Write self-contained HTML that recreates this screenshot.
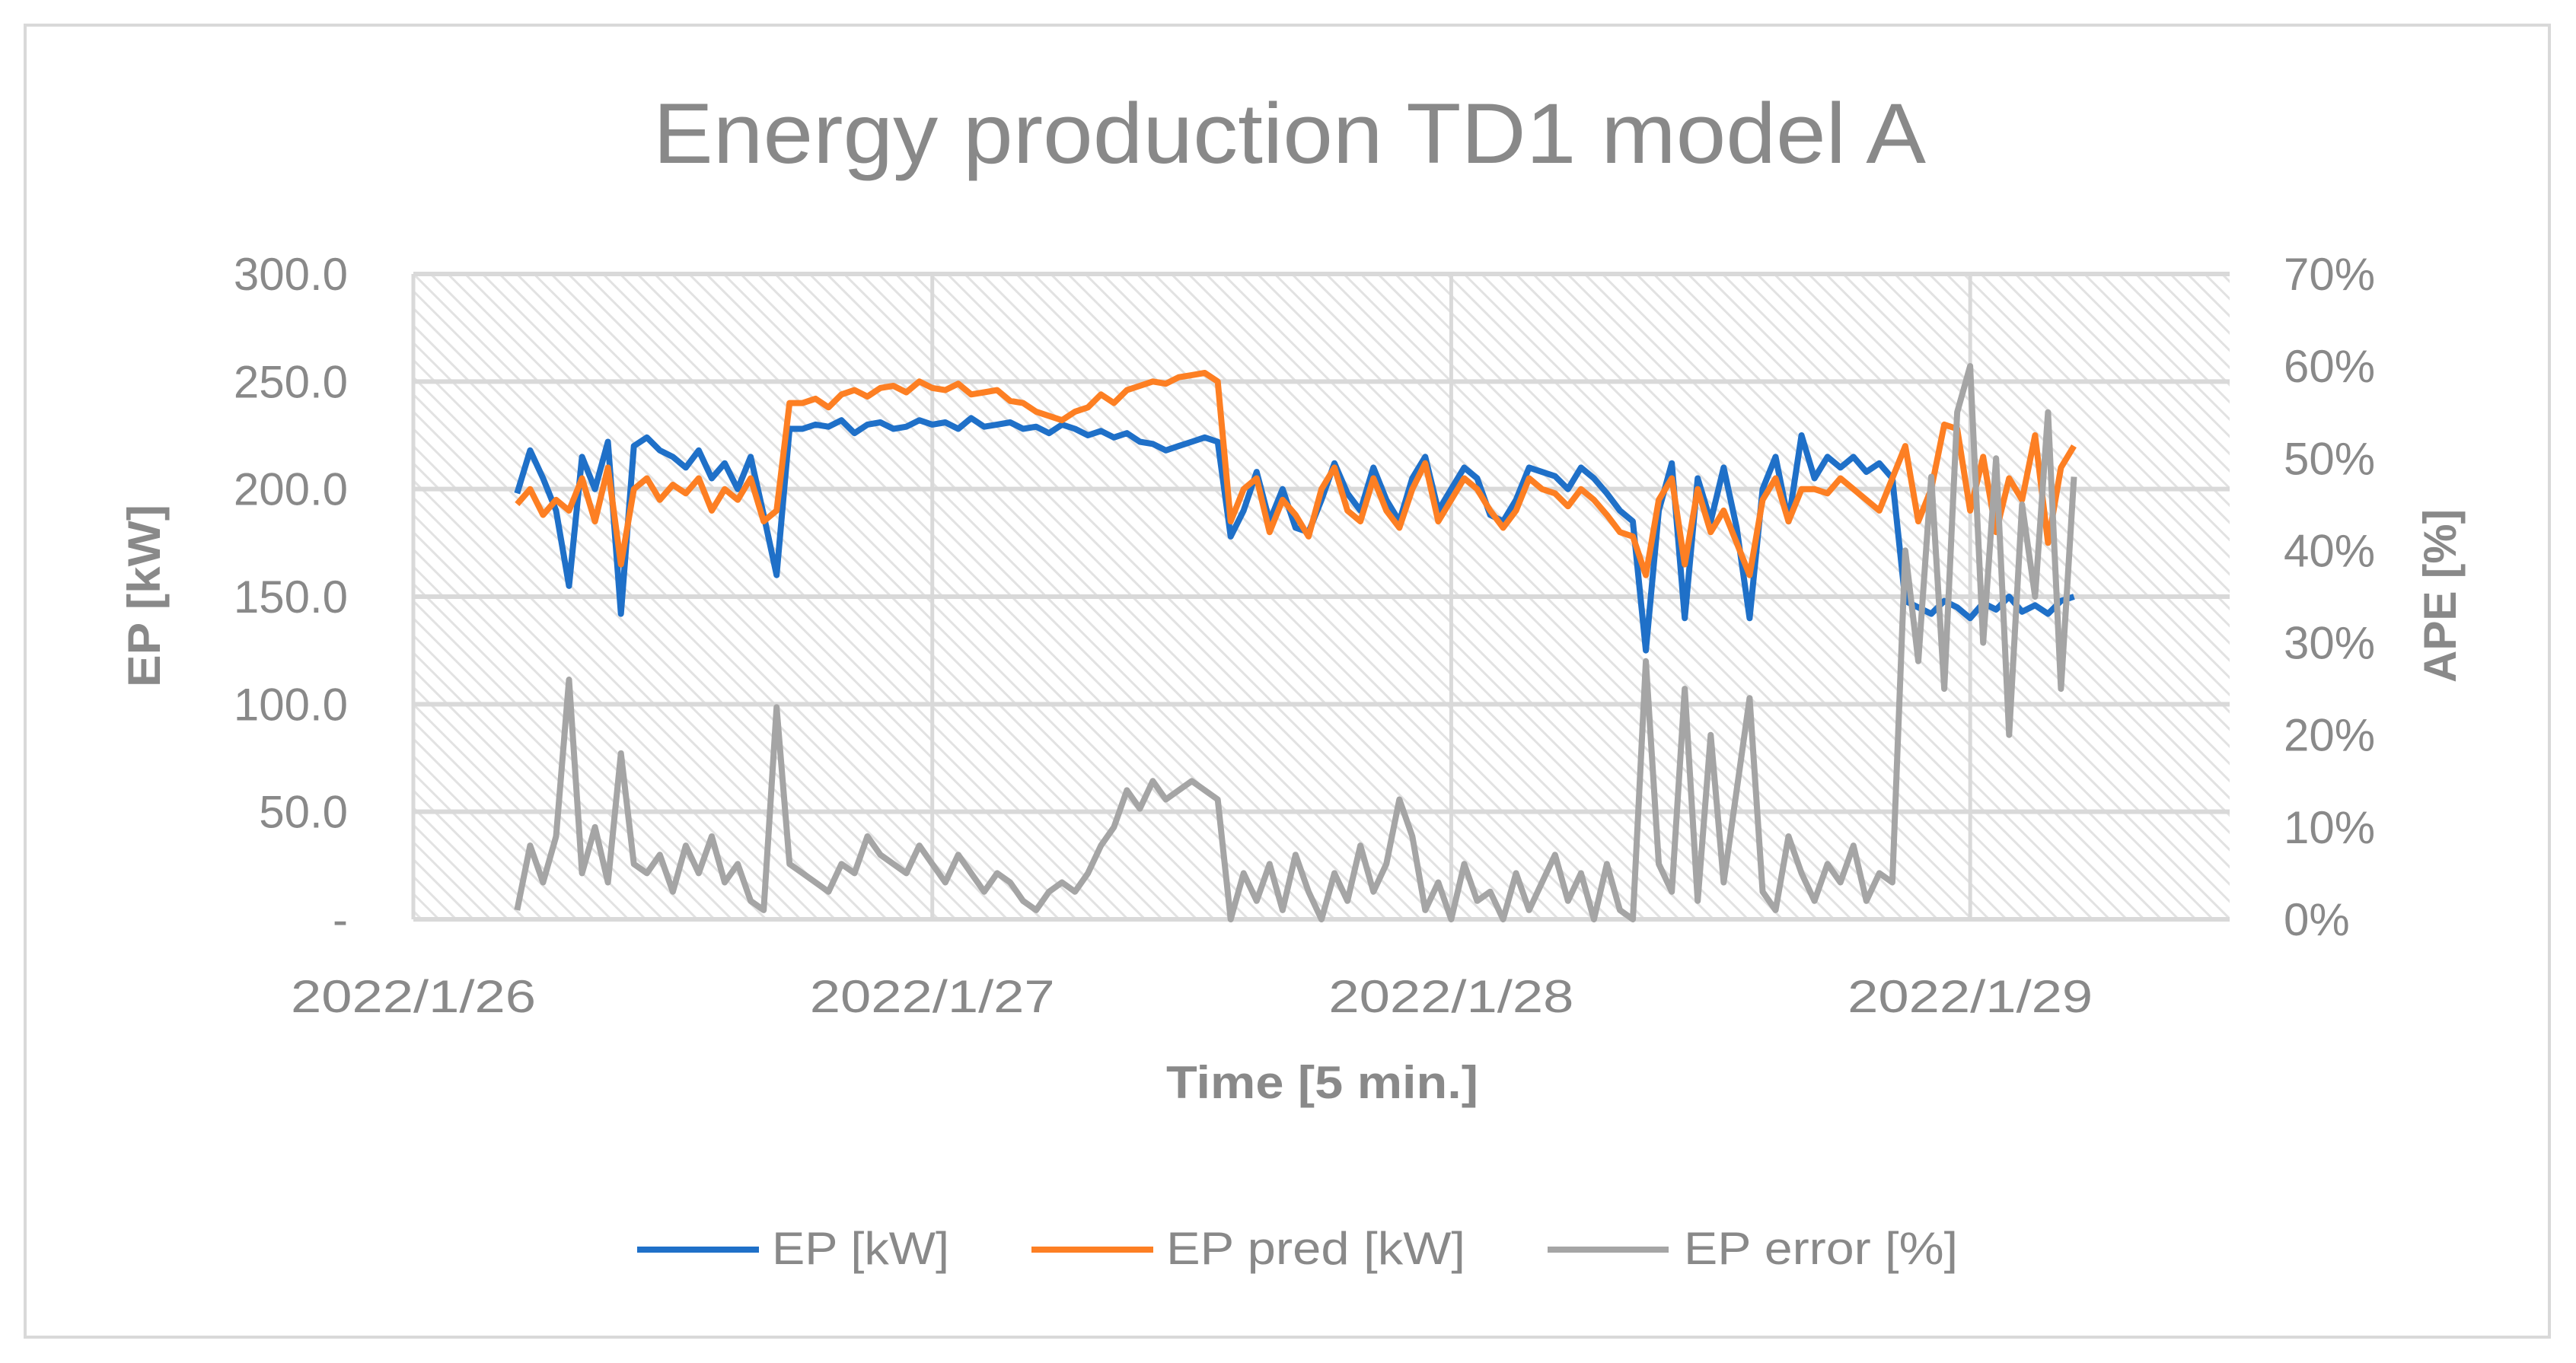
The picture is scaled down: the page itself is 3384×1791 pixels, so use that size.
<!DOCTYPE html>
<html><head><meta charset="utf-8"><style>
html,body{margin:0;padding:0;background:#fff}
svg{display:block}
text{font-family:"Liberation Sans",sans-serif;fill:#898989}
</style></head><body>
<svg id="chart" width="3384" height="1791" viewBox="0 0 3384 1791" xmlns="http://www.w3.org/2000/svg">
<defs>
<pattern id="hatch" patternUnits="userSpaceOnUse" width="16" height="16" patternTransform="rotate(-45)">
<rect width="16" height="16" fill="#ffffff"/>
<line x1="0" y1="0" x2="0" y2="16" stroke="#e2e2e2" stroke-width="6"/>
</pattern>
</defs>
<rect x="33" y="33" width="3316" height="1724" fill="#fff" stroke="#d9d9d9" stroke-width="4"/>
<text x="1694" y="214" font-size="112" text-anchor="middle" textLength="1672" lengthAdjust="spacingAndGlyphs">Energy production TD1 model A</text>
<rect x="543" y="360" width="2386" height="848" fill="url(#hatch)"/>
<g id="grid"></g>
<g id="yticks"></g>
<g id="y2ticks"></g>
<g id="xticks"></g>
<g id="series"></g>
<text transform="translate(210,783) rotate(-90)" font-size="60" font-weight="bold" text-anchor="middle" textLength="240" lengthAdjust="spacingAndGlyphs">EP [kW]</text>
<text transform="translate(3226,783) rotate(-90)" font-size="60" font-weight="bold" text-anchor="middle" textLength="228" lengthAdjust="spacingAndGlyphs">APE [%]</text>
<text x="1737" y="1443" font-size="60" font-weight="bold" text-anchor="middle" textLength="410" lengthAdjust="spacingAndGlyphs">Time [5 min.]</text>
<g>
<g>
<line x1="837" y1="1642" x2="997" y2="1642" stroke="#1f70c8" stroke-width="8"/>
<text x="1014" y="1661" font-size="60" textLength="233" lengthAdjust="spacingAndGlyphs">EP [kW]</text></g>
<g>
<line x1="1355" y1="1642" x2="1515" y2="1642" stroke="#fd7f23" stroke-width="8"/>
<text x="1532" y="1661" font-size="60" textLength="393" lengthAdjust="spacingAndGlyphs">EP pred [kW]</text></g>
<g>
<line x1="2033" y1="1642" x2="2192" y2="1642" stroke="#a5a5a5" stroke-width="8"/>
<text x="2212" y="1661" font-size="60" textLength="360" lengthAdjust="spacingAndGlyphs">EP error [%]</text></g>
</g>
</svg>
<script>
const startDay = 0.2;
const stepDay = 0.025;
const yTickLabels = ["-","50.0","100.0","150.0","200.0","250.0","300.0"];
const yTickValues = [0,50,100,150,200,250,300];
const y2TickValues = [0,10,20,30,40,50,60,70];
const xTickLabels = ["2022/1/26","2022/1/27","2022/1/28","2022/1/29"];
const xTickDays = [0,1,2,3];
const epValues = [198,218,205,190,155,215,200,222,142,220,224,218,215,210,218,205,212,200,215,188,160,228,
228,230,229,232,226,230,231,228,229,232,230,231,228,233,229,230,231,228,229,226,230,228,225,227,224,226,222,221,218,220,222,224,
222,
178,190,208,185,200,182,180,195,212,198,190,210,195,185,205,215,190,200,210,205,188,185,195,210,208,206,200,210,205,198,190,185,
125,190,212,140,205,185,210,182,140,200,215,185,225,205,215,210,215,208,212,205,148,145,142,148,145,140,147,144,150,143,146,142,148,150];
const predValues = [193,200,188,195,190,205,185,210,165,200,205,195,202,198,205,190,200,195,205,185,190,240,
240,242,238,244,246,243,247,248,245,250,247,246,249,244,245,246,241,240,236,234,232,236,238,244,240,246,248,250,249,252,253,254,
250,
185,200,205,180,195,188,178,200,210,190,185,205,190,182,200,212,185,195,205,200,190,182,190,205,200,198,192,200,195,188,180,178,
160,195,205,165,200,180,190,175,160,195,205,185,200,200,198,205,200,195,190,205,220,185,200,230,228,190,215,180,205,195,225,175,210,220];
const errorValues = [1,8,4,9,26,5,10,4,18,6,5,7,3,8,5,9,4,6,2,1,23,6,
5,4,3,6,5,9,7,6,5,8,6,4,7,5,3,5,4,2,1,3,4,3,5,8,10,14,12,15,13,14,15,14,
13,
0,5,2,6,1,7,3,0,5,2,8,3,6,13,9,1,4,0,6,2,3,0,5,1,4,7,2,5,0,6,1,0,
28,6,3,25,2,20,4,14,24,3,1,9,5,2,6,4,8,2,5,4,40,28,48,25,55,60,30,50,20,45,35,55,25,48];

const NS="http://www.w3.org/2000/svg";
const L=543,R=2929,T=360,B=1208;
const xScale=d=>L+(d/3.5)*(R-L);
const yScale=v=>B-(v/300)*(B-T);
const y2Scale=v=>B-(v/70)*(B-T);
function mk(tag,parent){const e=document.createElementNS(NS,tag);parent.appendChild(e);return e;}
const grid=document.getElementById('grid');
yTickValues.forEach((v,i)=>{
  const ln=mk('line',grid);
  
  
  ln.setAttribute('x1',L);ln.setAttribute('x2',R);ln.setAttribute('y1',yScale(v));ln.setAttribute('y2',yScale(v));
  ln.setAttribute('stroke','#d9d9d9');ln.setAttribute('stroke-width','6');
});
xTickDays.forEach(d=>{
  const ln=mk('line',grid);
  
  
  ln.setAttribute('x1',xScale(d));ln.setAttribute('x2',xScale(d));ln.setAttribute('y1',T);ln.setAttribute('y2',B);
  ln.setAttribute('stroke','#d9d9d9');ln.setAttribute('stroke-width','5');
});
const yt=document.getElementById('yticks');
yTickValues.forEach((v,i)=>{
  const t=mk('text',yt);
  
  
  t.setAttribute('x',457);t.setAttribute('y',yScale(v)+21);
  t.setAttribute('font-size','60');t.setAttribute('text-anchor','end');
  t.textContent=yTickLabels[i];
});
const y2t=document.getElementById('y2ticks');
y2TickValues.forEach(v=>{
  const t=mk('text',y2t);
  
  
  t.setAttribute('x',3000);t.setAttribute('y',y2Scale(v)+21);
  t.setAttribute('font-size','60');
  t.textContent=v+'%';
});
const xt=document.getElementById('xticks');
xTickDays.forEach((d,i)=>{
  const t=mk('text',xt);
  
  
  t.setAttribute('x',xScale(d));t.setAttribute('y',1330);
  t.setAttribute('font-size','60');t.setAttribute('text-anchor','middle');
  t.setAttribute('textLength','322');t.setAttribute('lengthAdjust','spacingAndGlyphs');
  t.textContent=xTickLabels[i];
});
const sg=document.getElementById('series');
function drawLine(vals,scale,color,name){
  const p=mk('polyline',sg);
  
  
  p.setAttribute('points',vals.map((v,i)=>xScale(startDay+i*stepDay).toFixed(1)+','+scale(v).toFixed(1)).join(' '));
  p.setAttribute('fill','none');p.setAttribute('stroke',color);p.setAttribute('stroke-width','8');
  p.setAttribute('stroke-linejoin','round');
}
drawLine(epValues,yScale,'#1f70c8','ep-line');
drawLine(predValues,yScale,'#fd7f23','ep-pred-line');
drawLine(errorValues,y2Scale,'#a5a5a5','ep-error-line');
</script>
</body></html>
